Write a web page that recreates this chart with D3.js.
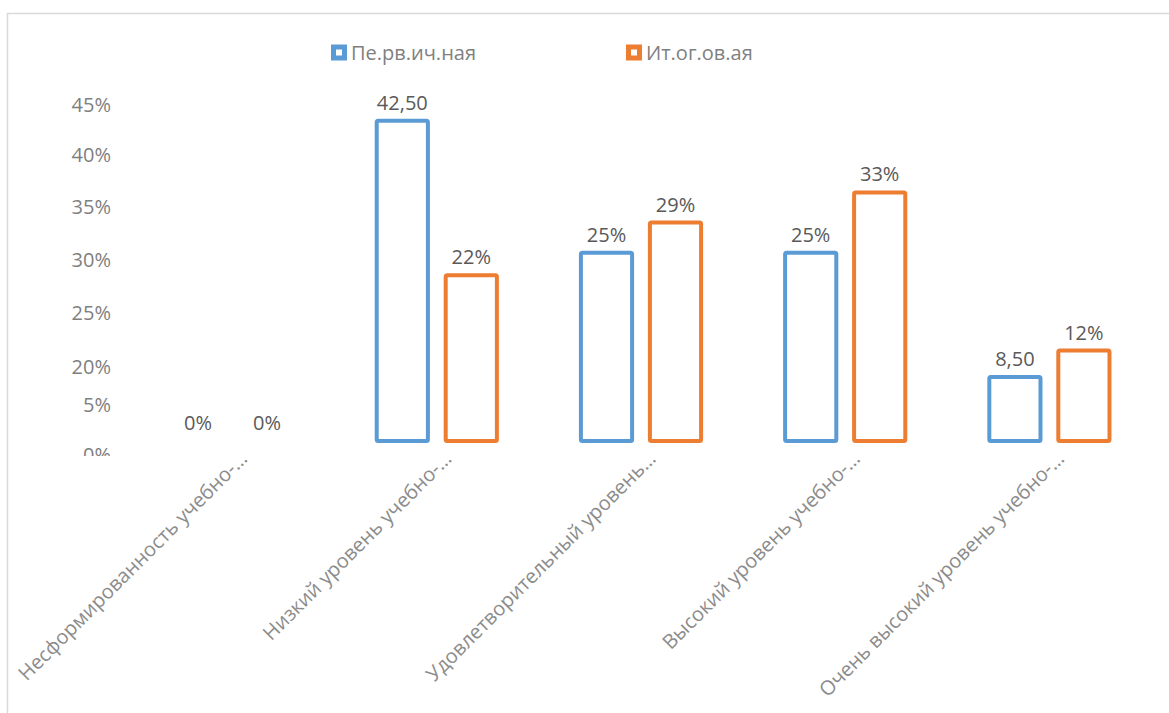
<!DOCTYPE html>
<html>
<head>
<meta charset="utf-8">
<script src="https://cdn.jsdelivr.net/npm/d3@7"></script>
<style>
  body { margin: 0; background: #fff; }
  text { font-family: "Open Sans", sans-serif; }
</style>
</head>
<body>
<div id="wrapper"></div>
<script>
// data
const categories = [
  'Несформированность учебно-…',
  'Низкий уровень учебно-…',
  'Удовлетворительный уровень…',
  'Высокий уровень учебно-…',
  'Очень высокий уровень учебно-…'
]
const seriesNames = ['Пе.рв.ич.ная', 'Ит.ог.ов.ая']
const primaryValues = [0, 42.5, 25, 25, 8.5]
const finalValues = [0, 22, 29, 33, 12]
const primaryLabels = ['0%', '42,50', '25%', '25%', '8,50']
const finalLabels = ['0%', '22%', '29%', '33%', '12%']
// the axis labels sit where the picture shows them (in axis units)
const tickLabels = ['45%', '40%', '35%', '30%', '25%', '20%', '5%', '0%']
const tickSpots = [44.6, 38, 31, 24, 17, 9.8, 4.8, -1.9]

const colors = ['#5b9bd5', '#ed7d31']

async function drawChart() {

  // 1. Access data
  const series = [
    { name: seriesNames[0], values: primaryValues, labels: primaryLabels },
    { name: seriesNames[1], values: finalValues, labels: finalLabels }
  ]
  const rows = categories.map((c, i) => ({
    category: c,
    bars: series.map((s, si) => ({ si, value: s.values[i], label: s.labels[i] }))
  }))

  // 2. Create chart dimensions
  let dimensions = {
    width: 1169,
    height: 713,
    plotLeft: 130.5,
    plotRight: 1151.5,
    baseline: 441,
    top: 102
  }

  // 3. Draw canvas
  const wrapper = d3.select('#wrapper')
    .append('svg')
      .attr('width', dimensions.width)
      .attr('height', dimensions.height)

  wrapper.append('rect')
      .attr('x', 7.5)
      .attr('y', 13.5)
      .attr('width', dimensions.width + 20)
      .attr('height', dimensions.height + 20)
      .attr('fill', 'none')
      .attr('stroke', '#d9d9d9')
      .attr('stroke-width', 1.5)

  // 4. Create scales
  const xScale = d3.scaleBand()
    .domain(categories)
    .range([dimensions.plotLeft, dimensions.plotRight])

  const xSub = d3.scaleBand()
    .domain(d3.range(series.length))
    .range([0, xScale.bandwidth()])
    .paddingInner(0.2)
    .paddingOuter(0.58)

  const yScale = d3.scaleLinear()
    .domain([0, 45])
    .range([dimensions.baseline, dimensions.top])

  // 5. Draw data
  const groups = wrapper.selectAll('.group')
    .data(rows)
    .join('g')
      .attr('class', 'group')
      .attr('transform', d => `translate(${xScale(d.category)}, 0)`)

  groups.selectAll('rect')
    .data(d => d.bars.filter(b => b.value > 0))
    .join('rect')
      .attr('x', d => xSub(d.si) + 2)
      .attr('width', xSub.bandwidth() - 4)
      .attr('y', d => yScale(d.value))
      .attr('height', d => yScale(0) - yScale(d.value))
      .attr('rx', 1.5)
      .attr('fill', '#fff')
      .attr('stroke', d => colors[d.si])
      .attr('stroke-width', 4)

  groups.selectAll('.value')
    .data(d => d.bars)
    .join('text')
      .attr('class', 'value')
      .attr('x', d => xSub(d.si) + xSub.bandwidth() / 2)
      .attr('y', d => yScale(d.value) - 11)
      .attr('text-anchor', 'middle')
      .attr('font-size', 20)
      .attr('fill', '#595959')
      .text(d => d.label)

  // 6. Draw peripherals
  // the bottom tick label is cut in half in the picture
  wrapper.append('clipPath')
      .attr('id', 'yclip')
    .append('rect')
      .attr('x', 0).attr('y', 0)
      .attr('width', 130).attr('height', 456)

  wrapper.append('g')
      .attr('clip-path', 'url(#yclip)')
    .selectAll('text')
    .data(tickLabels)
    .join('text')
      .attr('x', 111)
      .attr('y', (d, i) => yScale(tickSpots[i]))
      .attr('dy', '0.35em')
      .attr('text-anchor', 'end')
      .attr('font-size', 20)
      .attr('fill', '#7f7f7f')
      .text(d => d)

  wrapper.append('g')
    .selectAll('text')
    .data(categories)
    .join('text')
      .attr('transform', d => `translate(${xScale(d) + xScale.bandwidth() / 2 + 16}, 460) rotate(-45)`)
      .attr('text-anchor', 'end')
      .attr('font-size', 20)
      .attr('fill', '#8c8c8c')
      .text(d => d)

  const legend = wrapper.append('g')
    .selectAll('g')
    .data(series)
    .join('g')
      .attr('transform', (d, i) => `translate(${339 + i * 295}, 52.5)`)

  legend.append('rect')
      .attr('x', -5.5).attr('y', -5.5)
      .attr('width', 11).attr('height', 11)
      .attr('fill', '#fff')
      .attr('stroke', (d, i) => colors[i])
      .attr('stroke-width', 5)

  legend.append('text')
      .attr('x', 12)
      .attr('dy', '0.35em')
      .attr('font-size', 20)
      .attr('fill', '#7f7f7f')
      .text(d => d.name)
}
drawChart()
</script>
</body>
</html>
